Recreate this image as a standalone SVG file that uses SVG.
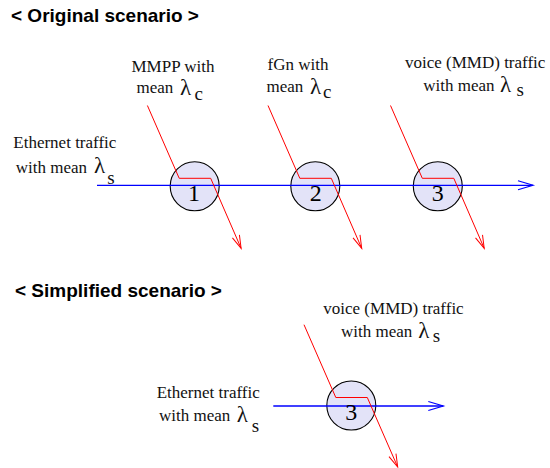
<svg xmlns="http://www.w3.org/2000/svg" width="550" height="468" viewBox="0 0 550 468">
<style>
.title{font-family:"Liberation Sans",Arial,sans-serif;font-weight:bold;font-size:19px;fill:#000}
.lbl{font-family:"Liberation Serif","Times New Roman",serif;font-size:17px;fill:#111}
.lam{font-family:"Liberation Serif","Times New Roman",serif;font-size:23px;fill:#111}
.sub{font-family:"Liberation Serif","Times New Roman",serif;font-size:19px;fill:#111}
.num{font-family:"Liberation Serif","Times New Roman",serif;font-size:24px;fill:#000;text-anchor:middle}
.node{fill:#e3e3f8;stroke:#000;stroke-width:1.1}
.flow{fill:none;stroke:#0000ff;stroke-width:1.3;marker-end:url(#blueArrow)}
.cross{fill:none;stroke:#ff0000;stroke-width:1;marker-end:url(#redArrow)}
</style>
<defs>
<marker id="blueArrow" markerUnits="userSpaceOnUse" viewBox="-16 -6 18 12" refX="0" refY="0" markerWidth="18" markerHeight="12" orient="auto" overflow="visible">
<path d="M-15,-4.5 L0,0 L-15,4.5" fill="none" stroke="#0000ff" stroke-width="1.2"/>
</marker>
<marker id="redArrow" markerUnits="userSpaceOnUse" viewBox="-14 -5 16 10" refX="0" refY="0" markerWidth="16" markerHeight="10" orient="auto" overflow="visible">
<path d="M-13,-3.8 L0,0 L-13,3.8" fill="none" stroke="#ff0000" stroke-width="1"/>
</marker>
</defs>

<g id="titles">
<text class="title" x="11" y="21.5">&lt; Original scenario &gt;</text>
<text class="title" x="15" y="297">&lt; Simplified scenario &gt;</text>
</g>

<g id="labels">
<g id="label-mmpp">
<text class="lbl" x="131.5" y="71.7">MMPP with</text>
<text class="lbl" x="136.5" y="93.3">mean</text>
<text class="lam" x="180" y="94.5">λ</text>
<text class="sub" x="194.5" y="99.5">c</text>
</g>
<g id="label-fgn">
<text class="lbl" x="267.5" y="69.5">fGn with</text>
<text class="lbl" x="266.5" y="91.7">mean</text>
<text class="lam" x="310" y="93.5">λ</text>
<text class="sub" x="323" y="97.5">c</text>
</g>
<g id="label-voice-top">
<text class="lbl" x="405" y="68.3">voice (MMD) traffic</text>
<text class="lbl" x="423.3" y="90.7">with mean</text>
<text class="lam" x="500" y="92">λ</text>
<text class="sub" x="516.5" y="95.5">s</text>
</g>
<g id="label-eth-top">
<text class="lbl" x="13.3" y="148.3">Ethernet traffic</text>
<text class="lbl" x="15.7" y="172.7">with mean</text>
<text class="lam" x="94" y="173.3">λ</text>
<text class="sub" x="107.3" y="184">s</text>
</g>
<g id="label-voice-bottom">
<text class="lbl" x="323.3" y="314">voice (MMD) traffic</text>
<text class="lbl" x="341" y="336.7">with mean</text>
<text class="lam" x="418.3" y="338">λ</text>
<text class="sub" x="432.7" y="341.5">s</text>
</g>
<g id="label-eth-bottom">
<text class="lbl" x="156.7" y="398.3">Ethernet traffic</text>
<text class="lbl" x="159" y="420.5">with mean</text>
<text class="lam" x="236.7" y="421.5">λ</text>
<text class="sub" x="251.7" y="431.5">s</text>
</g>
</g>

<g id="node-1"><circle class="node" cx="194.7" cy="186.3" r="24.5"/></g>
<g id="node-2"><circle class="node" cx="315.3" cy="186.3" r="24.5"/></g>
<g id="node-3"><circle class="node" cx="437.8" cy="186.3" r="24.5"/></g>
<g id="node-3-simplified"><circle class="node" cx="351.3" cy="405.5" r="24.5"/></g>

<g id="connectors">
<line class="flow" x1="97" y1="185.3" x2="533" y2="185.3"/>
<polyline class="cross" points="147.4,105.5 179.2,178.3 210.7,178.3 241.1,248.3"/>
<polyline class="cross" points="268,105.5 299.8,178.3 331.3,178.3 361.7,248.3"/>
<polyline class="cross" points="390.5,105.5 422.3,178.3 453.8,178.3 484.2,248.3"/>
<line class="flow" x1="273.3" y1="406" x2="443.3" y2="406"/>
<polyline class="cross" points="304,324.7 335.8,397.5 367.3,397.5 397.7,467"/>
</g>

<g id="node-labels">
<text class="num" x="194" y="200.8">1</text>
<text class="num" x="315.8" y="200.8">2</text>
<text class="num" x="437.8" y="200.8">3</text>
<text class="num" x="351.3" y="420">3</text>
</g>
</svg>
